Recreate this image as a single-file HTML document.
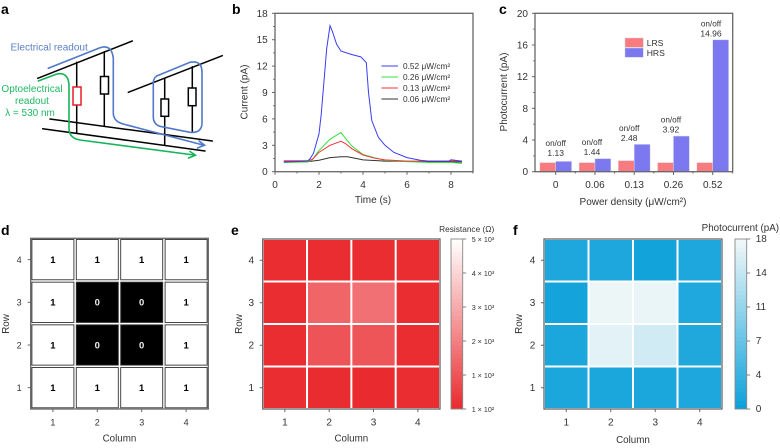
<!DOCTYPE html>
<html>
<head>
<meta charset="utf-8">
<title>Memory array readout figure</title>
<style>
html,body{margin:0;padding:0;background:#fff;}
svg{display:block;filter:blur(0.3px);}
text{font-family:"Liberation Sans",sans-serif;fill:#333;}
.pl{font-size:14px;font-weight:bold;fill:#000;}
</style>
</head>
<body>
<svg id="fig" xmlns="http://www.w3.org/2000/svg" width="780" height="448" viewBox="0 0 780 448">
  <rect width="780" height="448" fill="#fff"/>
  <text class="pl" x="1" y="14">a</text>
  <text class="pl" x="232" y="14">b</text>
  <text class="pl" x="499" y="14">c</text>
  <text class="pl" x="1" y="235">d</text>
  <text class="pl" x="231" y="235">e</text>
  <text class="pl" x="513" y="235">f</text>

  <g id="diagram" fill="none" stroke-linecap="round">
    <g stroke="#000" stroke-width="1.5">
      <path d="M37.7 78.3L132.3 41"/>
      <path d="M128.3 92.3L222.3 55.7"/>
      <path d="M50 119L212.3 141"/>
      <path d="M42.7 128.7L205 151"/>
      <path d="M76.7 62.3V133.3"/>
      <path d="M104.3 51.7V126"/>
      <path d="M164.7 78.3V145"/>
      <path d="M192.3 66.7V131.7"/>
    </g>
    <rect x="73" y="87" width="8" height="18" fill="#fff" stroke="#ee1c25" stroke-width="1.5"/>
    <rect x="100.5" y="76.5" width="8" height="17.5" fill="#fff" stroke="#000" stroke-width="1.5"/>
    <rect x="161" y="99" width="7.6" height="17.3" fill="#fff" stroke="#000" stroke-width="1.5"/>
    <rect x="188.3" y="88" width="7.7" height="17.7" fill="#fff" stroke="#000" stroke-width="1.5"/>
    <path d="M48.3 68.3L100 47.7Q111.5 44 113.3 58V113Q113.3 122 125 124.5L203 145" stroke="#4f78c8" stroke-width="1.6"/>
    <path d="M199 141L204.5 145.2L197.5 148" stroke="#4f78c8" stroke-width="1.6"/>
    <path d="M156.7 76L190 62.3Q201.7 60 202 71.7V123.3Q201.7 133.3 190 132.3L161.7 126.7Q153.3 125 153.3 116.7V83.3Q153.3 78.3 156.7 76Z" stroke="#4f78c8" stroke-width="1.6"/>
    <path d="M38.3 81L56.7 74Q68.3 71.7 69 85V128.3Q69 138.3 80 140L194 155" stroke="#16b45a" stroke-width="1.6"/>
    <path d="M190 151.5L195.5 155.2L188.5 158" stroke="#16b45a" stroke-width="1.6"/>
  </g>
  <text x="10.5" y="50.5" font-size="10" style="fill:#5b7fc7">Electrical readout</text>
  <g font-size="10" text-anchor="middle" style="fill:#1fb864">
    <text x="32" y="92" style="fill:#1fb864">Optoelectrical</text>
    <text x="32" y="104" style="fill:#1fb864">readout</text>
    <text x="30" y="116" style="fill:#1fb864">λ = 530 nm</text>
  </g>
  <g id="panelB"></g>
  <g id="panelC"></g>
  <g id="panelD"></g>
  <g id="panelE"></g>
  <g id="panelF"></g>
</svg>
<script>
// Panel b data
var timeTicks = [0, 2, 4, 6, 8];
var currentTicks = [0, 3, 6, 9, 12, 15, 18];
var lineLabels = ['0.52 μW/cm²', '0.26 μW/cm²', '0.13 μW/cm²', '0.06 μW/cm²'];
var blueT = [0.4, 1.4, 1.5, 1.6, 1.75, 2, 2.1, 2.25, 2.35, 2.5, 2.6, 2.8, 3, 3.5, 3.9, 4.15, 4.25, 4.4, 4.7, 5, 5.4, 6, 6.6, 7, 7.9, 8, 8.5];
var blueI = [1.1, 1.2, 1.25, 1.5, 2.1, 4.3, 6.5, 11, 14, 16.6, 16, 14.5, 13.7, 13.3, 13.05, 12.4, 9, 5.8, 3.9, 3, 2.2, 1.6, 1.3, 1.2, 1.2, 1.35, 1.2];
var greenT = [0.4, 1.5, 1.7, 2, 2.5, 3, 3.2, 3.5, 4, 4.5, 5, 6, 7, 8, 8.5];
var greenI = [1.05, 1.1, 1.4, 2.4, 3.7, 4.45, 3.8, 2.9, 1.95, 1.6, 1.3, 1.15, 1.05, 1.05, 0.95];
var redT = [0.4, 1.5, 1.7, 2, 2.5, 3, 3.2, 3.5, 4, 4.5, 5, 6, 7, 8, 8.5];
var redI = [1.25, 1.25, 1.4, 2.2, 3, 3.45, 3.2, 2.6, 1.9, 1.55, 1.35, 1.2, 1.2, 1.2, 1.2];
var blackT = [0.4, 1.5, 2, 2.5, 3, 3.3, 3.7, 4, 5, 8.5];
var blackI = [1.15, 1.15, 1.3, 1.6, 1.7, 1.7, 1.5, 1.35, 1.2, 1.1];

// Panel c data
var densities = ['0', '0.06', '0.13', '0.26', '0.52'];
var lrsValues = [1.15, 1.15, 1.4, 1.15, 1.15];
var hrsValues = [1.3, 1.65, 3.45, 4.5, 16.65];
var onOffValues = ['1.13', '1.44', '2.48', '3.92', '14.96'];
var photoTicks = [0, 4, 8, 12, 16, 20];

// Panels d, e, f data (first row listed is row 4)
var gridLabels = [1, 2, 3, 4];
var stateGrid = [[1,1,1,1],[1,0,0,1],[1,0,0,1],[1,1,1,1]];
var resistanceGrid = [[170,170,170,170],[170,1450,1710,170],[170,1050,1100,170],[170,150,130,170]];
var resistanceBarTicks = [100, 1080, 2060, 3040, 4020, 5000];
var resistanceBarLabels = ['1 × 10²', '1 × 10³', '2 × 10³', '3 × 10³', '4 × 10³', '5 × 10³'];
var photoGrid = [[1.5,1.5,0.7,1.5],[0.8,17.5,17.4,1.6],[1.4,16.8,15.4,1.7],[1.4,1.3,1.3,1.5]];
var photoBarTicks = [0, 3.6, 7.2, 10.8, 14.4, 18];

var NS = 'http://www.w3.org/2000/svg';
var AXIS = '#666';
function mk(tag, attrs, parent) {
  var el = document.createElementNS(NS, tag);
  for (var k in attrs) el.setAttribute(k, attrs[k]);
  parent.appendChild(el);
  return el;
}
function label(parent, str, x, y, size, anchor, rot) {
  var a = {x: x, y: y, 'font-size': size, 'text-anchor': anchor || 'middle'};
  if (rot) a.transform = 'rotate(-90 ' + x + ' ' + y + ')';
  var el = mk('text', a, parent);
  el.textContent = str;
  return el;
}
function linear(d0, d1, r0, r1) {
  return function (v) { return r0 + (v - d0) / (d1 - d0) * (r1 - r0); };
}
function seg(parent, x1, y1, x2, y2, w) {
  return mk('line', {x1: x1, y1: y1, x2: x2, y2: y2, stroke: AXIS, 'stroke-width': w || 1}, parent);
}
function frame(parent, l, t, r, b) {
  var el = mk('rect', {x: l, y: t, width: r - l, height: b - t, fill: 'none', stroke: AXIS, 'stroke-width': 1.3}, parent);
  
  
  return el;
}

/* ---------- Panel b ---------- */
(function () {
  var g = document.getElementById('panelB');
  var x = linear(0, 9, 275, 473);
  var y = linear(0, 18, 171.7, 13.3);
  frame(g, 275, 13.3, 473, 171.7);
  var v, el;
  for (v = 0; v <= 9; v++) {
    el = seg(g, x(v), 171.7, x(v), 171.7 + (v % 2 ? 1.8 : 3));
    
    
  }
  for (v = 0; v <= 18; v += 1.5) {
    el = seg(g, 275, y(v), 275 - (v % 3 ? 1.8 : 3), y(v));
    
    
  }
  timeTicks.forEach(function (t) {
    var tx = label(g, String(t), x(t), 188, 10);
    
    
  });
  currentTicks.forEach(function (t) {
    var tx = label(g, String(t), 267.7, y(t) + 3.5, 10, 'end');
    
    
  });
  var xTitle = label(g, 'Time (s)', 373, 203, 10);
  
  
  var yTitle = label(g, 'Current (pA)', 247.5, 92, 10, 'middle', true);
  
  

  function pts(ts, is) {
    return ts.map(function (t, i) { return x(t).toFixed(2) + ',' + y(is[i]).toFixed(2); }).join(' ');
  }
  var p;
  p = mk('polyline', {points: pts(blackT, blackI), fill: 'none', stroke: '#333', 'stroke-width': 1}, g);
  
  
  p = mk('polyline', {points: pts(greenT, greenI), fill: 'none', stroke: '#33e23c', 'stroke-width': 1}, g);
  
  
  p = mk('polyline', {points: pts(redT, redI), fill: 'none', stroke: '#f5333a', 'stroke-width': 1}, g);
  
  
  p = mk('polyline', {points: pts(blueT, blueI), fill: 'none', stroke: '#3a3df0', 'stroke-width': 1}, g);
  
  

  var colors = ['#3a3df0', '#33e23c', '#f5333a', '#333'];
  lineLabels.forEach(function (s, i) {
    var ly = 66 + i * 11;
    var sw = mk('line', {x1: 381.5, y1: ly, x2: 398, y2: ly, stroke: colors[i], 'stroke-width': 1}, g);
    
    
    var tx = label(g, s, 403, ly + 3, 8.3, 'start');
    
    
  });
})();

/* ---------- Panel c ---------- */
(function () {
  var g = document.getElementById('panelC');
  var bandW = 39.25;
  var cx = function (i) { return 555.7 + i * bandW; };
  var y = linear(0, 20, 171.7, 13.3);
  var barW = 15.9;
  var nudge = [0, -3, -5, -2.5, -1.7];
  densities.forEach(function (d, i) {
    var r = mk('rect', {x: cx(i) - barW, y: y(lrsValues[i]), width: barW, height: y(0) - y(lrsValues[i]), fill: '#f97a7f', stroke: '#e2dada', 'stroke-width': 0.5}, g);
    
    
    var h = mk('rect', {x: cx(i), y: y(hrsValues[i]), width: barW, height: y(0) - y(hrsValues[i]), fill: '#7b78f0', stroke: '#d8d8e8', 'stroke-width': 0.5}, g);
    
    
    var t = seg(g, cx(i), 171.7, cx(i), 175);
    
    
    var m = seg(g, cx(i) + bandW / 2, 171.7, cx(i) + bandW / 2, 173.5);
    
    
    var tx = label(g, d, cx(i), 188, 10);
    
    
    var base = Math.min(y(hrsValues[i]) - 3.5, 156);
    var a1 = label(g, 'on/off', cx(i) + nudge[i], base - 10, 8.2);
    
    
    var a2 = label(g, onOffValues[i], cx(i) + nudge[i], base, 8.5);
    
    
  });
  frame(g, 535, 13.3, 732.7, 171.7);
  var v, el;
  for (v = 0; v <= 20; v += 2) {
    el = seg(g, 535, y(v), 535 - (v % 4 ? 1.8 : 3), y(v));
    
    
  }
  photoTicks.forEach(function (t) {
    var tx = label(g, String(t), 528, y(t) + 3.5, 10, 'end');
    
    
  });
  var xt = label(g, 'Power density (μW/cm²)', 633, 205, 10);
  
  
  var yt = label(g, 'Photocurrent (pA)', 507, 92, 10, 'middle', true);
  
  
  var s1 = mk('rect', {x: 625, y: 38, width: 18.3, height: 9.3, fill: '#f97a7f', stroke: '#d8d0d0', 'stroke-width': 0.5}, g);
  
  
  var s2 = mk('rect', {x: 625, y: 48, width: 18.3, height: 9.3, fill: '#7b78f0', stroke: '#d0d0e0', 'stroke-width': 0.5}, g);
  
  
  var l1 = label(g, 'LRS', 646.7, 46, 8.6, 'start');
  
  
  var l2 = label(g, 'HRS', 646.7, 56, 8.6, 'start');
  
  
})();

/* ---------- Shared heatmap axes ---------- */
function gridAxes(g, L, R, T, B, tickRight, rowX, colBase, size) {
  var cw = (R - L) / 4, ch = (B - T) / 4;
  gridLabels.forEach(function (n, i) {
    var px = L + cw * (i + 0.5);
    var py = B - ch * (i + 0.5);
    var t1 = seg(g, px, B, px, B + 3);
    
    
    var t2 = seg(g, L, py, L - 3, py);
    
    
    var a = label(g, String(n), px, 425.5, size);
    
    
    var b = label(g, String(n), tickRight, py + 3.3, size, 'end');
    
    
  });
  var xt = label(g, 'Column', (L + R) / 2, colBase, 9.8);
  
  
  var yt = label(g, 'Row', rowX, 324, 9.8, 'middle', true);
  
  
}
function lerpColor(c0, c1, f) {
  f = Math.max(0, Math.min(1, f));
  return 'rgb(' + c0.map(function (c, i) { return Math.round(c + (c1[i] - c) * f); }).join(',') + ')';
}
function heatmap(g, grid, L, R, T, B, color) {
  var cw = (R - L) / 4, ch = (B - T) / 4;
  grid.forEach(function (row, r) {
    row.forEach(function (v, c) {
      var el = mk('rect', {x: L + c * cw + 1, y: T + r * ch + 1, width: cw - 2, height: ch - 2, fill: color(v)}, g);
      
      
    });
  });
  frame(g, L, T, R, B);
}
function colorbar(g, L, R, T, B, d0, d1, color, ticks, texts, size, labelX) {
  var y = linear(d0, d1, B, T);
  var n = 40;
  for (var i = 0; i < n; i++) {
    var v0 = d0 + (d1 - d0) * i / n;
    var v1 = d0 + (d1 - d0) * (i + 1) / n;
    var el = mk('rect', {x: L, y: y(v1), width: R - L, height: y(v0) - y(v1) + 0.4, fill: color((v0 + v1) / 2)}, g);
    
    
  }
  var f = mk('rect', {x: L, y: T, width: R - L, height: B - T, fill: 'none', stroke: '#888', 'stroke-width': 0.9}, g);
  
  
  ticks.forEach(function (t, i) {
    var tk = seg(g, R, y(t), R + 3.5, y(t), 0.8);
    
    
    var tx = label(g, texts[i], labelX, y(t) + 3, size, 'start');
    
    
  });
}

/* ---------- Panel d ---------- */
(function () {
  var g = document.getElementById('panelD');
  var L = 30.7, R = 208.3, T = 238.3, B = 409;
  var cw = (R - L) / 4, ch = (B - T) / 4;
  stateGrid.forEach(function (row, r) {
    row.forEach(function (v, c) {
      var x = L + c * cw, y = T + r * ch;
      var el = mk('rect', {x: x + 1.2, y: y + 1.2, width: cw - 2.4, height: ch - 2.4, fill: v ? '#fff' : '#000', stroke: '#333', 'stroke-width': 0.9}, g);
      
      
      var tx = label(g, String(v), x + cw / 2, y + ch / 2 + 3.4, 9.5);
      tx.setAttribute('style', 'font-weight:bold;fill:' + (v ? '#000' : '#eee'));
      
      
    });
  });
  frame(g, L, T, R, B);
  gridAxes(g, L, R, T, B, 21.7, 9, 441.5, 9);
})();

/* ---------- Panel e ---------- */
(function () {
  var g = document.getElementById('panelE');
  var c0 = [233, 42, 46], c1 = [255, 255, 255];
  var color = function (v) { return lerpColor(c0, c1, (v - 100) / 4900); };
  heatmap(g, resistanceGrid, 262.7, 440, 239, 409, color);
  gridAxes(g, 262.7, 440, 239, 409, 254, 242, 441.5, 10);
  colorbar(g, 451, 462.7, 239, 409, 100, 5000, color, resistanceBarTicks, resistanceBarLabels, 7.2, 471.7);
  var t = label(g, 'Resistance (Ω)', 466.7, 232, 8.3);
  
  
})();

/* ---------- Panel f ---------- */
(function () {
  var g = document.getElementById('panelF');
  var c0 = [10, 160, 218], c1 = [242, 248, 248];
  var color = function (v) { return lerpColor(c0, c1, v / 18); };
  heatmap(g, photoGrid, 544, 722, 239, 409, color);
  gridAxes(g, 544, 722, 239, 409, 535.3, 522, 443, 10);
  colorbar(g, 735, 746.7, 239, 409, 0, 18, color, photoBarTicks, photoBarTicks.map(function (v) { return String(Math.round(v)); }), 10, 755.7);
  var t = label(g, 'Photocurrent (pA)', 779, 231, 9.8, 'end');
  
  
})();
</script>
</body>
</html>
